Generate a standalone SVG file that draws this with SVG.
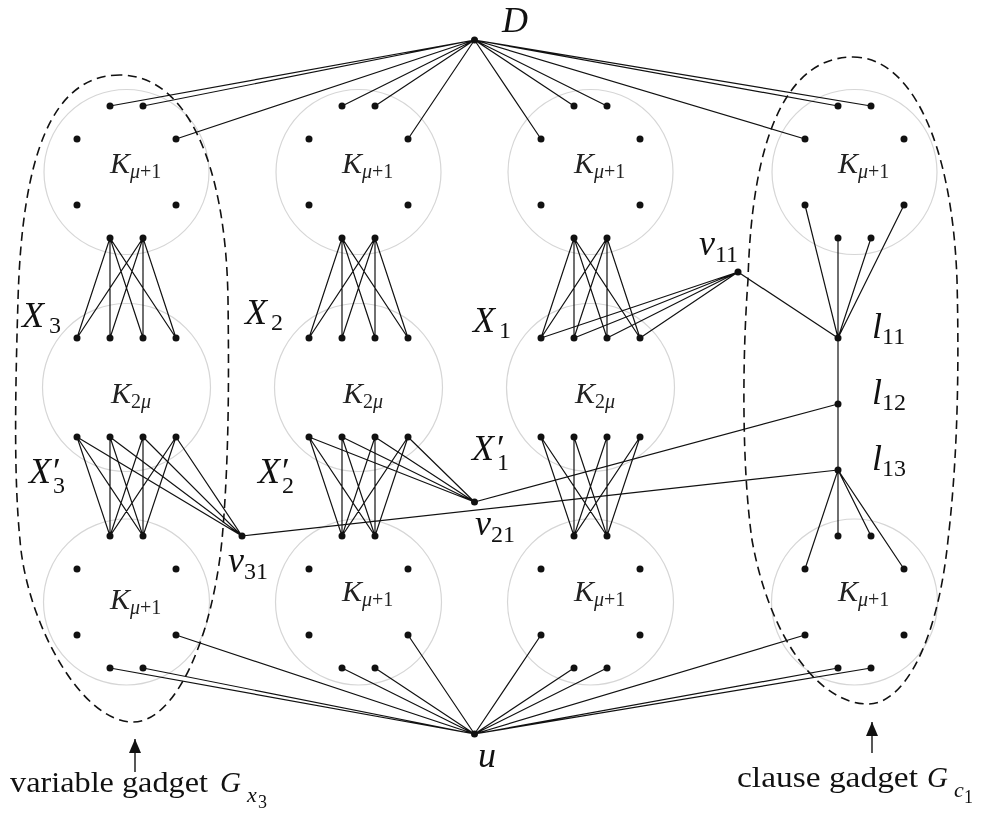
<svg xmlns="http://www.w3.org/2000/svg" width="985" height="813" viewBox="0 0 985 813">
<defs>
<style>
.ring{fill:none;stroke:#d6d6d6;stroke-width:1.2;mix-blend-mode:multiply}
.dot{fill:#111}
.edge{stroke:#111;stroke-width:1.2;fill:none;stroke-linecap:round}
.arr{stroke:#111;stroke-width:1.4;fill:none}
.gad{fill:none;stroke:#111;stroke-width:1.6;stroke-dasharray:9 5.5}
.m{font-family:"Liberation Serif","Times New Roman",serif;font-style:italic;font-size:36px;fill:#111}
.k{font-family:"Liberation Serif","Times New Roman",serif;font-style:italic;font-size:30px;fill:#222}
.s{font-size:20px}
.ms{font-size:24px;font-style:normal}
.up{font-style:normal}
.cap{font-family:"Liberation Serif","Times New Roman",serif;font-size:29px;fill:#111}
</style>
<marker id="ah" markerWidth="14" markerHeight="12" refX="14" refY="6" orient="auto" markerUnits="userSpaceOnUse" viewBox="0 0 14 12">
<path d="M0,0 L14,6 L0,12 z" fill="#111"/>
</marker>
</defs>
<rect width="985" height="813" fill="#fff"/>

<g id="gadget-outlines">
<path class="gad" d="M120,75 C50,75 22,160 18,300 C15,400 14,480 20,540 C26,620 80,722 133,722 C175,722 212,640 222,540 C229,460 229,380 228,300 C226,160 185,75 120,75 Z"/>
<path class="gad" d="M853,57 C910,57 952,140 957,280 C960,400 955,480 948,540 C938,640 905,704 868,704 C820,704 770,640 752,540 C742,470 742,360 748,280 C752,130 790,57 853,57 Z"/>
</g>

<g id="connectors">
<path class="edge" d="M474.5,40L110,106 M474.5,40L143,106 M474.5,40L176,139 M474.5,40L342,106 M474.5,40L375,106 M474.5,40L408,139 M474.5,40L541,139 M474.5,40L574,106 M474.5,40L607,106 M474.5,40L805,139 M474.5,40L838,106 M474.5,40L871,106"/>
<path class="edge" d="M474.5,734L110,668 M474.5,734L143,668 M474.5,734L176,635 M474.5,734L342,668 M474.5,734L375,668 M474.5,734L408,635 M474.5,734L541,635 M474.5,734L574,668 M474.5,734L607,668 M474.5,734L805,635 M474.5,734L838,668 M474.5,734L871,668"/>
<path class="edge" d="M110,238L77,338 M110,238L110,338 M110,238L143,338 M110,238L176,338 M143,238L77,338 M143,238L110,338 M143,238L143,338 M143,238L176,338"/>
<path class="edge" d="M342,238L309,338 M342,238L342,338 M342,238L375,338 M342,238L408,338 M375,238L309,338 M375,238L342,338 M375,238L375,338 M375,238L408,338"/>
<path class="edge" d="M574,238L541,338 M574,238L574,338 M574,238L607,338 M574,238L640,338 M607,238L541,338 M607,238L574,338 M607,238L607,338 M607,238L640,338"/>
<path class="edge" d="M77,437L110,536 M77,437L143,536 M110,437L110,536 M110,437L143,536 M143,437L110,536 M143,437L143,536 M176,437L110,536 M176,437L143,536"/>
<path class="edge" d="M309,437L342,536 M309,437L375,536 M342,437L342,536 M342,437L375,536 M375,437L342,536 M375,437L375,536 M408,437L342,536 M408,437L375,536"/>
<path class="edge" d="M541,437L574,536 M541,437L607,536 M574,437L574,536 M574,437L607,536 M607,437L574,536 M607,437L607,536 M640,437L574,536 M640,437L607,536"/>
<path class="edge" d="M242,536L77,437 M242,536L110,437 M242,536L143,437 M242,536L176,437 M242,536L838,470"/>
<path class="edge" d="M474.5,502L309,437 M474.5,502L342,437 M474.5,502L375,437 M474.5,502L408,437 M474.5,502L838,404"/>
<path class="edge" d="M738,272L541,338 M738,272L574,338 M738,272L607,338 M738,272L640,338 M738,272L838,338"/>
<path class="edge" d="M838,338L838,470"/>
<path class="edge" d="M838,338L805,205 M838,338L838,238 M838,338L871,238 M838,338L904,205"/>
<path class="edge" d="M838,470L838,536 M838,470L871,536 M838,470L805,569 M838,470L904,569"/>
</g>

<g id="K-top-1">
<circle class="ring" cx="126.5" cy="172" r="82.5"/>
<text class="k" x="110" y="173">K<tspan class="s" dy="5">μ</tspan><tspan class="s up">+1</tspan></text>
<g class="dot"><circle cx="110" cy="106" r="3.5"/><circle cx="143" cy="106" r="3.5"/><circle cx="77" cy="139" r="3.5"/><circle cx="176" cy="139" r="3.5"/><circle cx="77" cy="205" r="3.5"/><circle cx="176" cy="205" r="3.5"/><circle cx="110" cy="238" r="3.5"/><circle cx="143" cy="238" r="3.5"/></g>
</g>
<g id="K-top-2">
<circle class="ring" cx="358.5" cy="172" r="82.5"/>
<text class="k" x="342" y="173">K<tspan class="s" dy="5">μ</tspan><tspan class="s up">+1</tspan></text>
<g class="dot"><circle cx="342" cy="106" r="3.5"/><circle cx="375" cy="106" r="3.5"/><circle cx="309" cy="139" r="3.5"/><circle cx="408" cy="139" r="3.5"/><circle cx="309" cy="205" r="3.5"/><circle cx="408" cy="205" r="3.5"/><circle cx="342" cy="238" r="3.5"/><circle cx="375" cy="238" r="3.5"/></g>
</g>
<g id="K-top-3">
<circle class="ring" cx="590.5" cy="172" r="82.5"/>
<text class="k" x="574" y="173">K<tspan class="s" dy="5">μ</tspan><tspan class="s up">+1</tspan></text>
<g class="dot"><circle cx="574" cy="106" r="3.5"/><circle cx="607" cy="106" r="3.5"/><circle cx="541" cy="139" r="3.5"/><circle cx="640" cy="139" r="3.5"/><circle cx="541" cy="205" r="3.5"/><circle cx="640" cy="205" r="3.5"/><circle cx="574" cy="238" r="3.5"/><circle cx="607" cy="238" r="3.5"/></g>
</g>
<g id="K-top-4">
<circle class="ring" cx="854.5" cy="172" r="82.5"/>
<text class="k" x="838" y="173">K<tspan class="s" dy="5">μ</tspan><tspan class="s up">+1</tspan></text>
<g class="dot"><circle cx="838" cy="106" r="3.5"/><circle cx="871" cy="106" r="3.5"/><circle cx="805" cy="139" r="3.5"/><circle cx="904" cy="139" r="3.5"/><circle cx="805" cy="205" r="3.5"/><circle cx="904" cy="205" r="3.5"/><circle cx="838" cy="238" r="3.5"/><circle cx="871" cy="238" r="3.5"/></g>
</g>

<g id="K-mid-3-var">
<circle class="ring" cx="126.5" cy="387.5" r="84"/>
<text class="k" x="111" y="403">K<tspan class="s up" dy="5">2</tspan><tspan class="s">μ</tspan></text>
<g class="dot"><circle cx="77" cy="338" r="3.5"/><circle cx="110" cy="338" r="3.5"/><circle cx="143" cy="338" r="3.5"/><circle cx="176" cy="338" r="3.5"/><circle cx="77" cy="437" r="3.5"/><circle cx="110" cy="437" r="3.5"/><circle cx="143" cy="437" r="3.5"/><circle cx="176" cy="437" r="3.5"/></g>
</g>
<g id="K-mid-2-var">
<circle class="ring" cx="358.5" cy="387.5" r="84"/>
<text class="k" x="343" y="403">K<tspan class="s up" dy="5">2</tspan><tspan class="s">μ</tspan></text>
<g class="dot"><circle cx="309" cy="338" r="3.5"/><circle cx="342" cy="338" r="3.5"/><circle cx="375" cy="338" r="3.5"/><circle cx="408" cy="338" r="3.5"/><circle cx="309" cy="437" r="3.5"/><circle cx="342" cy="437" r="3.5"/><circle cx="375" cy="437" r="3.5"/><circle cx="408" cy="437" r="3.5"/></g>
</g>
<g id="K-mid-1-var">
<circle class="ring" cx="590.5" cy="387.5" r="84"/>
<text class="k" x="575" y="403">K<tspan class="s up" dy="5">2</tspan><tspan class="s">μ</tspan></text>
<g class="dot"><circle cx="541" cy="338" r="3.5"/><circle cx="574" cy="338" r="3.5"/><circle cx="607" cy="338" r="3.5"/><circle cx="640" cy="338" r="3.5"/><circle cx="541" cy="437" r="3.5"/><circle cx="574" cy="437" r="3.5"/><circle cx="607" cy="437" r="3.5"/><circle cx="640" cy="437" r="3.5"/></g>
</g>

<g id="K-bot-1">
<circle class="ring" cx="126.5" cy="602" r="83"/>
<text class="k" x="110" y="609">K<tspan class="s" dy="5">μ</tspan><tspan class="s up">+1</tspan></text>
<g class="dot"><circle cx="110" cy="536" r="3.5"/><circle cx="143" cy="536" r="3.5"/><circle cx="77" cy="569" r="3.5"/><circle cx="176" cy="569" r="3.5"/><circle cx="77" cy="635" r="3.5"/><circle cx="176" cy="635" r="3.5"/><circle cx="110" cy="668" r="3.5"/><circle cx="143" cy="668" r="3.5"/></g>
</g>
<g id="K-bot-2">
<circle class="ring" cx="358.5" cy="602" r="83"/>
<text class="k" x="342" y="601">K<tspan class="s" dy="5">μ</tspan><tspan class="s up">+1</tspan></text>
<g class="dot"><circle cx="342" cy="536" r="3.5"/><circle cx="375" cy="536" r="3.5"/><circle cx="309" cy="569" r="3.5"/><circle cx="408" cy="569" r="3.5"/><circle cx="309" cy="635" r="3.5"/><circle cx="408" cy="635" r="3.5"/><circle cx="342" cy="668" r="3.5"/><circle cx="375" cy="668" r="3.5"/></g>
</g>
<g id="K-bot-3">
<circle class="ring" cx="590.5" cy="602" r="83"/>
<text class="k" x="574" y="601">K<tspan class="s" dy="5">μ</tspan><tspan class="s up">+1</tspan></text>
<g class="dot"><circle cx="574" cy="536" r="3.5"/><circle cx="607" cy="536" r="3.5"/><circle cx="541" cy="569" r="3.5"/><circle cx="640" cy="569" r="3.5"/><circle cx="541" cy="635" r="3.5"/><circle cx="640" cy="635" r="3.5"/><circle cx="574" cy="668" r="3.5"/><circle cx="607" cy="668" r="3.5"/></g>
</g>
<g id="K-bot-4">
<circle class="ring" cx="854.5" cy="602" r="83"/>
<text class="k" x="838" y="601">K<tspan class="s" dy="5">μ</tspan><tspan class="s up">+1</tspan></text>
<g class="dot"><circle cx="838" cy="536" r="3.5"/><circle cx="871" cy="536" r="3.5"/><circle cx="805" cy="569" r="3.5"/><circle cx="904" cy="569" r="3.5"/><circle cx="805" cy="635" r="3.5"/><circle cx="904" cy="635" r="3.5"/><circle cx="838" cy="668" r="3.5"/><circle cx="871" cy="668" r="3.5"/></g>
</g>

<g id="D"><circle class="dot" cx="474.5" cy="40" r="3.5"/><text class="m" x="502" y="32">D</text></g>
<g id="u"><circle class="dot" cx="474.5" cy="734" r="3.5"/><text class="m" x="478" y="767">u</text></g>
<g id="v11"><circle class="dot" cx="738" cy="272" r="3.5"/><text class="m" x="699" y="255">v<tspan class="ms" dy="7">11</tspan></text></g>
<g id="v21"><circle class="dot" cx="474.5" cy="502" r="3.5"/><text class="m" x="475" y="535">v<tspan class="ms" dy="7">21</tspan></text></g>
<g id="v31"><circle class="dot" cx="242" cy="536" r="3.5"/><text class="m" x="228" y="572">v<tspan class="ms" dy="7">31</tspan></text></g>
<g id="l11"><circle class="dot" cx="838" cy="338" r="3.5"/><text class="m" x="872" y="338">l<tspan class="ms" dy="6">11</tspan></text></g>
<g id="l12"><circle class="dot" cx="838" cy="404" r="3.5"/><text class="m" x="872" y="404">l<tspan class="ms" dy="6">12</tspan></text></g>
<g id="l13"><circle class="dot" cx="838" cy="470" r="3.5"/><text class="m" x="872" y="470">l<tspan class="ms" dy="6">13</tspan></text></g>

<g id="set-labels">
<text class="m" x="22" y="327">X<tspan class="ms" x="49" dy="6">3</tspan></text>
<text class="m" x="245" y="324">X<tspan class="ms" x="271" dy="6">2</tspan></text>
<text class="m" x="473" y="332">X<tspan class="ms" x="499" dy="6">1</tspan></text>
<text class="m" x="29" y="483">X<tspan class="up" x="53">′</tspan><tspan class="ms" x="53" dy="10">3</tspan></text>
<text class="m" x="258" y="483">X<tspan class="up" x="282">′</tspan><tspan class="ms" x="282" dy="10">2</tspan></text>
<text class="m" x="472" y="460">X<tspan class="up" x="497">′</tspan><tspan class="ms" x="497" dy="10">1</tspan></text>
</g>

<g id="captions">
<line class="arr" x1="135" y1="772" x2="135" y2="739" marker-end="url(#ah)"/>
<line class="arr" x1="872" y1="753" x2="872" y2="722" marker-end="url(#ah)"/>
<text class="cap" x="10" y="792" textLength="198" lengthAdjust="spacingAndGlyphs">variable gadget</text>
<text class="cap" x="220" y="792" font-size="34" font-style="italic">G<tspan font-size="22" x="247" y="802">x</tspan><tspan font-size="18" font-style="normal" x="258" y="808">3</tspan></text>
<text class="cap" x="737" y="787" textLength="181" lengthAdjust="spacingAndGlyphs">clause gadget</text>
<text class="cap" x="927" y="787" font-size="34" font-style="italic">G<tspan font-size="22" x="954" y="797">c</tspan><tspan font-size="18" font-style="normal" x="964" y="803">1</tspan></text>
</g>
</svg>
